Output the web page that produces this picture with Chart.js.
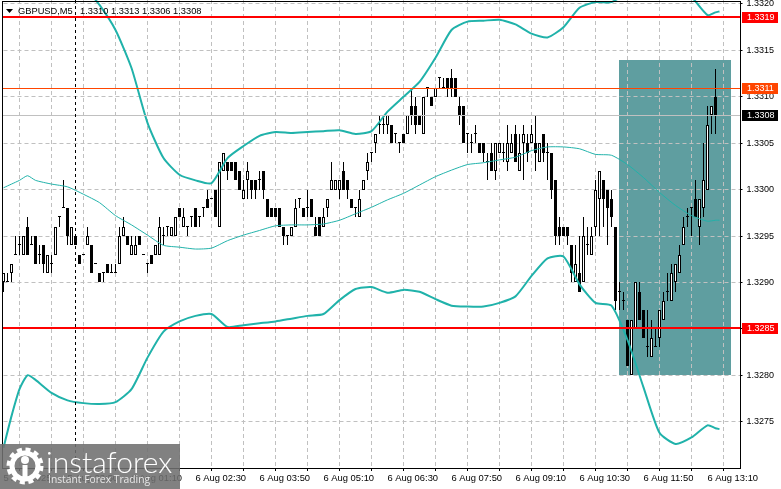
<!DOCTYPE html>
<html>
<head>
<meta charset="utf-8">
<title>GBPUSD,M5</title>
<script src="https://cdn.jsdelivr.net/npm/chart.js@4/dist/chart.umd.min.js"></script>
<style>
  html, body { margin: 0; padding: 0; background: #fff; }
  #wrap { position: relative; width: 781px; height: 489px; overflow: hidden; }
  canvas { display: block; }
  #brand { position: absolute; left: 0; top: 444px; width: 180px; height: 45px; background: rgba(112,112,112,.88); color: #fff; }
  #brand svg { position: absolute; left: 6px; top: 3px; }
  #brand .name { position: absolute; left: 46px; top: -1px; font: 300 30px Lato, sans-serif; }
  #brand .tag { position: absolute; left: 48px; top: 28px; font: 10.3px "Open Sans", sans-serif; color: #e8e8e8; }
</style>
</head>
<body>
<div id="wrap">
  <canvas id="chart" width="781" height="489"></canvas>
  <div id="brand">
    <svg width="38" height="38" viewBox="0 0 38 38">
      <circle cx="19" cy="19" r="13" fill="none" stroke="#fff" stroke-width="5"/>
      <circle cx="19" cy="19" r="16.5" fill="none" stroke="#fff" stroke-width="4" stroke-dasharray="5 3.64"/>
      <circle cx="19" cy="13" r="4" fill="#fff"/>
      <rect x="16.5" y="18" width="5" height="14" fill="#fff"/>
    </svg>
    <div class="name">instaforex</div>
    <div class="tag">Instant Forex Trading</div>
  </div>
</div>
<script>
const headerSymbol = "GBPUSD,M5";
const headerQuotes = "1.3310 1.3313 1.3306 1.3308";

const xTickLabels = ["5 Aug 2025", "5 Aug 23:50", "6 Aug 01:10", "6 Aug 02:30", "6 Aug 03:50", "6 Aug 05:10",
  "6 Aug 06:30", "6 Aug 07:50", "6 Aug 09:10", "6 Aug 10:30", "6 Aug 11:50", "6 Aug 13:10"];
const priceTicks = [1.3275, 1.3280, 1.3285, 1.3290, 1.3295, 1.3300, 1.3305, 1.3310, 1.3315, 1.3320];

const opens = [
  1.3290, 1.3290, 1.3291, 1.3293, 1.3294, 1.3293, 1.3296, 1.3294, 1.3295, 1.3293,
  1.3294, 1.3291, 1.3292, 1.3293, 1.3297, 1.3298, 1.3298, 1.3294, 1.3295, 1.3293,
  1.3293, 1.3294, 1.3294, 1.3292, 1.3291, 1.3291, 1.3292, 1.3291, 1.3291, 1.3292,
  1.3295, 1.3295, 1.3293, 1.3293, 1.3295, 1.3293, 1.3292, 1.3293, 1.3293, 1.3293,
  1.3295, 1.3296, 1.3295, 1.3295, 1.3298, 1.3296, 1.3296, 1.3297, 1.3298, 1.3297,
  1.3298, 1.3299, 1.3299, 1.3300, 1.3296, 1.3302, 1.3303, 1.3303, 1.3303, 1.3302,
  1.3299, 1.3301, 1.3301, 1.3301, 1.3301, 1.3302, 1.3299, 1.3298, 1.3298, 1.3298,
  1.3296, 1.3295, 1.3295, 1.3296, 1.3299, 1.3298, 1.3298, 1.3299, 1.3296, 1.3297,
  1.3296, 1.3298, 1.3300, 1.3300, 1.3300, 1.3302, 1.3301, 1.3299, 1.3298, 1.3297,
  1.3300, 1.3302, 1.3304, 1.3305, 1.3307, 1.3307, 1.3307, 1.3307, 1.3306, 1.3305,
  1.3306, 1.3306, 1.3309, 1.3309, 1.3308, 1.3306, 1.3311, 1.3310, 1.3310, 1.3312,
  1.3311, 1.3312, 1.3312, 1.3312, 1.3309, 1.3309, 1.3306, 1.3305, 1.3306, 1.3305,
  1.3305, 1.3303, 1.3304, 1.3302, 1.3304, 1.3304, 1.3303, 1.3304, 1.3306, 1.3302,
  1.3305, 1.3305, 1.3305, 1.3305, 1.3303, 1.3306, 1.3304, 1.3304, 1.3301, 1.3296,
  1.3296, 1.3296, 1.3294, 1.3290, 1.3291, 1.3290, 1.3294, 1.3293, 1.3296, 1.3299,
  1.3301, 1.3300, 1.3299, 1.3296, 1.3289, 1.3288, 1.3286, 1.3280, 1.3285, 1.3289,
  1.3287, 1.3283, 1.3282, 1.3283, 1.3284, 1.3286, 1.3289, 1.3288, 1.3290, 1.3291,
  1.3294, 1.3297, 1.3298, 1.3299, 1.3296, 1.3298, 1.3300, 1.3308, 1.3310
];
const highs = [
  1.3291, 1.3291, 1.3292, 1.3295, 1.3295, 1.3295, 1.3297, 1.3295, 1.3295, 1.3294,
  1.3294, 1.3293, 1.3293, 1.3296, 1.3297, 1.3301, 1.3298, 1.3296, 1.3295, 1.3293,
  1.3293, 1.3296, 1.3294, 1.3292, 1.3291, 1.3291, 1.3292, 1.3292, 1.3292, 1.3296,
  1.3297, 1.3295, 1.3295, 1.3295, 1.3295, 1.3293, 1.3292, 1.3293, 1.3294, 1.3297,
  1.3296, 1.3296, 1.3296, 1.3297, 1.3298, 1.3298, 1.3296, 1.3297, 1.3298, 1.3297,
  1.3298, 1.3300, 1.3299, 1.3300, 1.3303, 1.3304, 1.3303, 1.3303, 1.3303, 1.3302,
  1.3301, 1.3303, 1.3301, 1.3301, 1.3302, 1.3302, 1.3299, 1.3298, 1.3298, 1.3298,
  1.3296, 1.3295, 1.3296, 1.3299, 1.3299, 1.3298, 1.3300, 1.3299, 1.3297, 1.3297,
  1.3298, 1.3299, 1.3303, 1.3301, 1.3301, 1.3303, 1.3301, 1.3299, 1.3298, 1.3300,
  1.3301, 1.3304, 1.3304, 1.3306, 1.3308, 1.3308, 1.3308, 1.3307, 1.3306, 1.3305,
  1.3306, 1.3308, 1.3311, 1.3310, 1.3308, 1.3310, 1.3311, 1.3310, 1.3311, 1.3312,
  1.3312, 1.3312, 1.3313, 1.3312, 1.3310, 1.3309, 1.3306, 1.3306, 1.3307, 1.3305,
  1.3305, 1.3304, 1.3305, 1.3305, 1.3305, 1.3305, 1.3307, 1.3306, 1.3307, 1.3306,
  1.3307, 1.3306, 1.3307, 1.3308, 1.3305, 1.3306, 1.3305, 1.3304, 1.3301, 1.3297,
  1.3296, 1.3296, 1.3294, 1.3294, 1.3295, 1.3297, 1.3296, 1.3296, 1.3301, 1.3302,
  1.3301, 1.3300, 1.3300, 1.3296, 1.3290, 1.3289, 1.3286, 1.3286, 1.3290, 1.3290,
  1.3287, 1.3287, 1.3286, 1.3285, 1.3287, 1.3289, 1.3291, 1.3292, 1.3292, 1.3294,
  1.3297, 1.3298, 1.3298, 1.3301, 1.3299, 1.3305, 1.3309, 1.3309, 1.3313
];
const lows = [
  1.3289, 1.3290, 1.3290, 1.3293, 1.3293, 1.3293, 1.3293, 1.3294, 1.3292, 1.3292,
  1.3291, 1.3291, 1.3291, 1.3293, 1.3296, 1.3298, 1.3294, 1.3294, 1.3294, 1.3292,
  1.3293, 1.3294, 1.3291, 1.3292, 1.3290, 1.3290, 1.3291, 1.3291, 1.3291, 1.3292,
  1.3295, 1.3294, 1.3293, 1.3293, 1.3294, 1.3293, 1.3291, 1.3292, 1.3293, 1.3293,
  1.3294, 1.3295, 1.3295, 1.3295, 1.3297, 1.3296, 1.3295, 1.3296, 1.3296, 1.3296,
  1.3297, 1.3298, 1.3299, 1.3297, 1.3296, 1.3302, 1.3301, 1.3302, 1.3301, 1.3300,
  1.3299, 1.3299, 1.3299, 1.3299, 1.3300, 1.3299, 1.3297, 1.3297, 1.3297, 1.3296,
  1.3294, 1.3294, 1.3295, 1.3296, 1.3298, 1.3297, 1.3297, 1.3297, 1.3295, 1.3295,
  1.3296, 1.3297, 1.3300, 1.3300, 1.3299, 1.3300, 1.3299, 1.3298, 1.3297, 1.3297,
  1.3300, 1.3301, 1.3303, 1.3304, 1.3306, 1.3306, 1.3306, 1.3305, 1.3305, 1.3304,
  1.3305, 1.3306, 1.3307, 1.3306, 1.3307, 1.3306, 1.3310, 1.3309, 1.3310, 1.3311,
  1.3311, 1.3310, 1.3310, 1.3310, 1.3307, 1.3305, 1.3304, 1.3304, 1.3305, 1.3304,
  1.3303, 1.3301, 1.3302, 1.3301, 1.3304, 1.3303, 1.3302, 1.3304, 1.3303, 1.3302,
  1.3301, 1.3303, 1.3305, 1.3302, 1.3303, 1.3303, 1.3301, 1.3299, 1.3294, 1.3294,
  1.3295, 1.3294, 1.3290, 1.3290, 1.3289, 1.3290, 1.3293, 1.3293, 1.3295, 1.3295,
  1.3296, 1.3294, 1.3296, 1.3287, 1.3287, 1.3287, 1.3281, 1.3280, 1.3285, 1.3286,
  1.3284, 1.3282, 1.3282, 1.3283, 1.3283, 1.3286, 1.3288, 1.3288, 1.3289, 1.3291,
  1.3294, 1.3296, 1.3295, 1.3297, 1.3294, 1.3297, 1.3300, 1.3306, 1.3306
];
const closes = [
  1.3291, 1.3290, 1.3292, 1.3293, 1.3294, 1.3295, 1.3293, 1.3294, 1.3292, 1.3293,
  1.3292, 1.3293, 1.3292, 1.3296, 1.3297, 1.3298, 1.3295, 1.3296, 1.3294, 1.3292,
  1.3293, 1.3295, 1.3291, 1.3292, 1.3290, 1.3291, 1.3291, 1.3291, 1.3291, 1.3295,
  1.3296, 1.3294, 1.3294, 1.3294, 1.3294, 1.3293, 1.3292, 1.3292, 1.3294, 1.3296,
  1.3295, 1.3296, 1.3296, 1.3297, 1.3297, 1.3297, 1.3296, 1.3297, 1.3296, 1.3297,
  1.3298, 1.3298, 1.3299, 1.3297, 1.3303, 1.3304, 1.3302, 1.3302, 1.3301, 1.3300,
  1.3300, 1.3302, 1.3300, 1.3300, 1.3301, 1.3300, 1.3297, 1.3297, 1.3297, 1.3296,
  1.3295, 1.3295, 1.3296, 1.3298, 1.3299, 1.3297, 1.3298, 1.3297, 1.3295, 1.3295,
  1.3297, 1.3299, 1.3301, 1.3301, 1.3301, 1.3300, 1.3300, 1.3298, 1.3298, 1.3299,
  1.3301, 1.3303, 1.3304, 1.3306, 1.3307, 1.3307, 1.3308, 1.3305, 1.3306, 1.3305,
  1.3305, 1.3308, 1.3308, 1.3307, 1.3307, 1.3310, 1.3311, 1.3309, 1.3311, 1.3312,
  1.3311, 1.3311, 1.3311, 1.3310, 1.3308, 1.3305, 1.3306, 1.3305, 1.3306, 1.3304,
  1.3304, 1.3303, 1.3302, 1.3305, 1.3305, 1.3304, 1.3305, 1.3305, 1.3303, 1.3304,
  1.3306, 1.3304, 1.3306, 1.3304, 1.3305, 1.3304, 1.3304, 1.3300, 1.3295, 1.3295,
  1.3295, 1.3295, 1.3291, 1.3292, 1.3289, 1.3295, 1.3294, 1.3295, 1.3300, 1.3302,
  1.3299, 1.3298, 1.3297, 1.3288, 1.3289, 1.3288, 1.3281, 1.3286, 1.3290, 1.3286,
  1.3284, 1.3283, 1.3284, 1.3283, 1.3287, 1.3288, 1.3289, 1.3291, 1.3292, 1.3293,
  1.3296, 1.3297, 1.3298, 1.3297, 1.3299, 1.3301, 1.3307, 1.3309, 1.3308
];

// bollinger bands
const bandBars = [0, 2, 4, 6, 8, 12, 16, 20, 24, 28, 32, 36, 40, 44, 48, 52, 56, 60, 64, 68, 72, 76, 80, 84, 88, 92,
  96, 100, 104, 108, 112, 116, 120, 124, 128, 132, 136, 140, 144, 148, 152, 156, 160, 164, 168, 172, 176, 178, 179];
const bandUpper = [null, null, null, null, null, null, null, 1.33220, 1.33199, 1.33172, 1.33131, 1.33072,
  1.33034, 1.33016, 1.33010, 1.33007, 1.33034, 1.33047, 1.33058, 1.33062, 1.33061, 1.33062,
  1.33063, 1.33064, 1.33060, 1.33063, 1.33084, 1.33100, 1.33116, 1.33142, 1.33172, 1.33181,
  1.33182, 1.33183, 1.33178, 1.33168, 1.33164, 1.33175, 1.33196, 1.33202, 1.33202, 1.33213,
  1.33231, 1.33237, 1.33226, 1.33208, 1.33188, 1.33191, 1.33192];
const bandMiddle = [1.33002, 1.33006, 1.33010, 1.33015, 1.33010, 1.33006, 1.33003, 1.32995, 1.32986, 1.32972, 1.32962, 1.32951,
  1.32940, 1.32938, 1.32936, 1.32937, 1.32945, 1.32951, 1.32956, 1.32961, 1.32962, 1.32962,
  1.32963, 1.32967, 1.32974, 1.32981, 1.32989, 1.32996, 1.33005, 1.33014, 1.33021, 1.33027,
  1.33029, 1.33032, 1.33035, 1.33042, 1.33046, 1.33046, 1.33044, 1.33038, 1.33037, 1.33027,
  1.33013, 1.32997, 1.32983, 1.32972, 1.32966, 1.32967, 1.32967];
const bandLower = [1.32722, 1.32756, 1.32785, 1.32800, 1.32795, 1.32781, 1.32773, 1.32770, 1.32769, 1.32771, 1.32785, 1.32819,
  1.32847, 1.32858, 1.32864, 1.32866, 1.32852, 1.32854, 1.32856, 1.32858, 1.32861, 1.32864,
  1.32866, 1.32881, 1.32893, 1.32895, 1.32889, 1.32892, 1.32890, 1.32882, 1.32875, 1.32874,
  1.32874, 1.32878, 1.32885, 1.32907, 1.32926, 1.32928, 1.32898, 1.32878, 1.32875, 1.32838,
  1.32787, 1.32738, 1.32726, 1.32733, 1.32746, 1.32743, 1.32742];

// order: resistance, ask, bid, support
const levelPrices = [1.33186, 1.33110, 1.33080, 1.32851];
const levelLabels = ["1.3319", "1.3311", "1.3308", "1.3285"];
const levelColors = ["#ff0000", "#ff4500", "#c0c0c0", "#ff0000"];
const levelBoxes = ["#ff0000", "#ff4500", "#000000", "#ff0000"];
const levelWidths = [2, 1, 1, 2];

const zoneBars = [154, 182];
const zonePrices = [1.33140, 1.32800];
const cursorBar = 18;

const slotCount = 185;
const categories = [];
for (let i = 0; i < slotCount; i++) {
  const t = 22 * 60 + 30 + i * 5;
  const hh = String(Math.floor(t / 60) % 24).padStart(2, "0");
  const mm = String(t % 60).padStart(2, "0");
  categories.push(hh + ":" + mm);
}

const bodies = opens.map((o, i) => [o, closes[i]]);
const wicks = lows.map((l, i) => [l, highs[i]]);
const bandPoints = values => bandBars.map((b, j) => ({ x: categories[b], y: values[j] }));

const BAND = "#20b2aa";
const GRID = "#c0c0c0";
const FONT = '"Liberation Sans"';

const overlay = {
  id: "overlay",
  beforeDraw(chart) {
    const { ctx, scales: { x, y } } = chart;
    const x0 = Math.floor(x.getPixelForValue(zoneBars[0])), x1 = Math.floor(x.getPixelForValue(zoneBars[1]));
    const y0 = Math.round(y.getPixelForValue(zonePrices[0])), y1 = Math.round(y.getPixelForValue(zonePrices[1]));
    ctx.fillStyle = "#5f9ea0";
    ctx.fillRect(x0, y0, x1 - x0, y1 - y0);
  },
  beforeDatasetDraw(chart, args) {
    // snap candle edges to whole pixels like the terminal does
    if (args.meta.type !== "bar") return;
    args.meta.data.forEach(el => {
      el.y = Math.round(el.y);
      el.base = Math.round(el.base);
    });
  },
  afterDatasetsDraw(chart) {
    const { ctx, chartArea: a, scales: { x, y } } = chart;
    ctx.save();
    levelPrices.forEach((p, i) => {
      const py = Math.round(y.getPixelForValue(p));
      ctx.strokeStyle = levelColors[i];
      ctx.lineWidth = levelWidths[i];
      ctx.beginPath();
      ctx.moveTo(2, py + (levelWidths[i] === 1 ? 0.5 : 0));
      ctx.lineTo(740, py + (levelWidths[i] === 1 ? 0.5 : 0));
      ctx.stroke();
    });
    const cx = Math.floor(x.getPixelForValue(cursorBar)) + 0.5;
    ctx.strokeStyle = "#000";
    ctx.lineWidth = 1;
    ctx.setLineDash([3, 3]);
    ctx.beginPath();
    ctx.moveTo(cx, a.top);
    ctx.lineTo(cx, a.bottom);
    ctx.stroke();
    ctx.restore();
  },
  afterDraw(chart) {
    const { ctx, scales: { y } } = chart;
    ctx.save();
    // frame
    ctx.strokeStyle = "#000";
    ctx.lineWidth = 1;
    ctx.strokeRect(2.5, 1.5, 738, 467);
    // price boxes on the axis
    ctx.font = "9px " + FONT;
    ctx.textBaseline = "middle";
    levelPrices.forEach((p, i) => {
      const py = Math.round(y.getPixelForValue(p));
      ctx.fillStyle = levelBoxes[i];
      ctx.fillRect(742, py - 5, 36, 11);
      ctx.fillStyle = "#fff";
      ctx.fillText(levelLabels[i], 747, py + 1);
    });
    // header
    ctx.fillStyle = "#000";
    ctx.beginPath();
    ctx.moveTo(6, 9);
    ctx.lineTo(13, 9);
    ctx.lineTo(9.5, 13);
    ctx.fill();
    ctx.font = "9.3px " + FONT;
    ctx.textBaseline = "alphabetic";
    ctx.fillText(headerSymbol, 18, 14);
    ctx.fillText(headerQuotes, 80, 14);
    ctx.restore();
  }
};

new Chart(document.getElementById("chart"), {
  data: {
    labels: categories,
    datasets: [
      { type: "line", data: bandPoints(bandUpper), borderColor: BAND, borderWidth: 2, pointRadius: 0, tension: 0.2, order: 0 },
      { type: "line", data: bandPoints(bandMiddle), borderColor: BAND, borderWidth: 1, pointRadius: 0, tension: 0.2, order: 0 },
      { type: "line", data: bandPoints(bandLower), borderColor: BAND, borderWidth: 2, pointRadius: 0, tension: 0.2, order: 0 },
      {
        type: "bar", data: bodies, order: 1, grouped: false, barThickness: 3, minBarLength: 1, clip: 4,
        backgroundColor: bodies.map(b => b[1] > b[0] ? "#ffffff" : "#000000"),
        borderColor: "#000000", borderWidth: 1, borderSkipped: false, inflateAmount: 0
      },
      {
        type: "bar", data: wicks, order: 2, grouped: false, barThickness: 1, clip: 4,
        backgroundColor: "#000000", borderWidth: 0, inflateAmount: 0
      }
    ]
  },
  plugins: [overlay],
  options: {
    responsive: false,
    devicePixelRatio: 1,
    animation: false,
    events: [],
    layout: { padding: { left: 3.5, right: 0, top: 0, bottom: 0 } },
    plugins: { legend: { display: false }, tooltip: { enabled: false } },
    scales: {
      x: {
        type: "category",
        offset: false,
        afterBuildTicks(axis) { axis.ticks = axis.ticks.filter(t => t.value % 8 === 0); },
        afterFit(axis) { axis.height = 21; axis.paddingLeft = 0; axis.paddingRight = 0; },
        border: { display: false, dash: [4, 3] },
        grid: {
          color: c => c.tick && c.tick.value === 0 ? "transparent" : GRID,
          tickColor: "#000", tickLength: 3, tickBorderDash: []
        },
        ticks: {
          autoSkip: false, maxRotation: 0, minRotation: 0, align: "start", padding: 2,
          color: "#000", font: { family: FONT, size: 9.4 },
          callback: v => v % 16 === 0 ? (xTickLabels[v / 16] || "") : ""
        }
      },
      y: {
        position: "right",
        min: 1.327001,
        max: 1.332043,
        afterBuildTicks(axis) { axis.ticks = priceTicks.map(v => ({ value: v })); },
        afterFit(axis) { axis.width = 41.5; axis.paddingTop = 0; axis.paddingBottom = 0; },
        border: { display: false, dash: [4, 3] },
        grid: { color: GRID, tickColor: "#000", tickLength: 3, tickBorderDash: [] },
        ticks: {
          padding: 4, color: "#000", font: { family: FONT, size: 9 },
          callback: v => v.toFixed(4)
        }
      }
    }
  }
});
</script>
</body>
</html>
